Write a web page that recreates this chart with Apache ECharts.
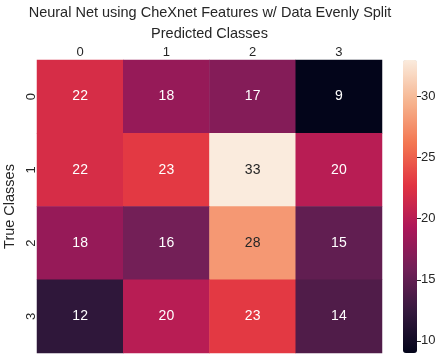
<!DOCTYPE html>
<html>
<head>
<meta charset="utf-8">
<script src="https://cdn.jsdelivr.net/npm/echarts@6/dist/echarts.min.js"></script>
<style>
  html, body { margin: 0; padding: 0; background: #fff; }
  #chart { width: 440px; height: 359px; }
</style>
</head>
<body>
<div id="chart"></div>
<script>
// confusion matrix, rows = true class, cols = predicted class
var predictedClasses = ['0', '1', '2', '3'];
var trueClasses = ['0', '1', '2', '3'];
var row0 = [22, 18, 17, 9];
var row1 = [22, 23, 33, 20];
var row2 = [18, 16, 28, 15];
var row3 = [12, 20, 23, 14];
var colorbarTicks = [10, 15, 20, 25, 30];
var valueMin = 9, valueMax = 33;

// seaborn "rocket" colormap
var rocket = ['#03051a', '#35193e', '#701f57', '#ad1759', '#e13342', '#f37651', '#f6b48f', '#faebdd'];

var textFont = 'Liberation Sans, Arial, sans-serif';
var textColor = '#262626';

var rows = [row0, row1, row2, row3];
var cells = [];
rows.forEach(function (r, i) {
    r.forEach(function (v, j) {
        cells.push({
            value: [j, i, v],
            label: { color: v >= 27 ? textColor : '#ffffff' }
        });
    });
});

var chart = echarts.init(document.getElementById('chart'), null, { renderer: 'canvas' });

var option = {
    animation: false,
    textStyle: { fontFamily: textFont },
    title: {
        text: 'Neural Net using CheXnet Features w/ Data Evenly Split',
        left: 210,
        textAlign: 'center',
        top: 5,
        padding: 0,
        textStyle: { fontSize: 14.5, fontWeight: 'normal', color: textColor, fontFamily: textFont }
    },
    grid: [
        { left: 37, right: 58, top: 60, bottom: 6, outerBoundsMode: 'none' },
        { left: 403, width: 14, top: 60, bottom: 6, outerBoundsMode: 'none' }
    ],
    xAxis: [
        {
            type: 'category',
            gridIndex: 0,
            position: 'top',
            data: predictedClasses,
            name: 'Predicted Classes',
            nameLocation: 'middle',
            nameGap: 14,
            nameTextStyle: { fontSize: 14.5, color: textColor },
            axisLine: { show: false },
            axisTick: { show: false },
            axisLabel: { fontSize: 13, color: textColor, margin: 1 },
            splitLine: { show: false }
        },
        {
            type: 'category',
            gridIndex: 1,
            data: [''],
            show: false
        }
    ],
    yAxis: [
        {
            type: 'category',
            gridIndex: 0,
            inverse: true,
            data: trueClasses,
            name: 'True Classes',
            nameLocation: 'middle',
            nameGap: 18,
            nameTextStyle: { fontSize: 14.5, color: textColor },
            axisLine: { show: false },
            axisTick: { show: false },
            axisLabel: { fontSize: 13, color: textColor, rotate: 90, margin: -1 },
            splitLine: { show: false }
        },
        {
            type: 'value',
            gridIndex: 1,
            position: 'right',
            min: valueMin,
            max: valueMax,
            axisLine: { show: false },
            axisTick: { show: true, customValues: colorbarTicks, length: 4, lineStyle: { color: textColor, width: 1 } },
            axisLabel: { customValues: colorbarTicks, fontSize: 13, color: textColor, margin: 4 },
            splitLine: { show: false }
        }
    ],
    visualMap: {
        type: 'continuous',
        min: valueMin,
        max: valueMax,
        seriesIndex: 0,
        calculable: false,
        left: 403,
        top: 60,
        padding: 0,
        itemWidth: 14,
        itemHeight: 293,
        text: null,
        showLabel: false,
        inRange: { color: rocket }
    },
    series: [
        {
            type: 'heatmap',
            xAxisIndex: 0,
            yAxisIndex: 0,
            data: cells,
            itemStyle: { borderWidth: 0 },
            label: { show: true, fontSize: 14, fontFamily: textFont },
            emphasis: { disabled: true }
        }
    ]
};

chart.setOption(option);
</script>
</body>
</html>
